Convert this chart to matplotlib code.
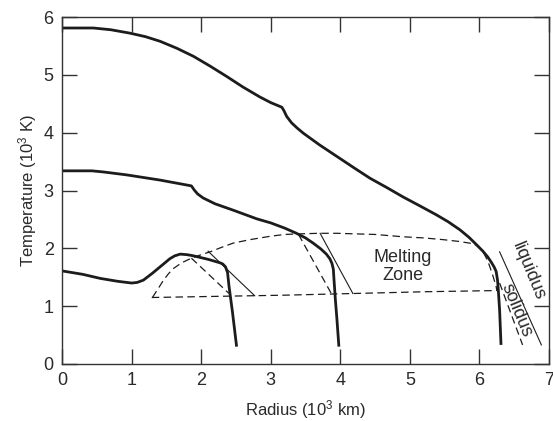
import matplotlib
matplotlib.use("Agg")
import matplotlib.pyplot as plt

plt.rcParams['font.family'] = ['Liberation Sans', 'DejaVu Sans']
plt.rcParams['mathtext.default'] = 'regular'

# ---- data (radius in 10^3 km, temperature in 10^3 K) ----
large_r = [0.00, 0.45, 0.70, 0.98, 1.20, 1.41, 1.65, 1.89, 2.13, 2.37, 2.60,
           2.84, 3.00, 3.16, 3.19, 3.23, 3.30, 3.38, 3.47, 3.70, 3.95, 4.20,
           4.43, 4.67, 4.90, 5.15, 5.38, 5.55, 5.72, 5.85, 5.96, 6.05, 6.12,
           6.17, 6.21, 6.24, 6.26, 6.27, 6.29, 6.31]
large_t = [5.81, 5.81, 5.78, 5.72, 5.66, 5.58, 5.46, 5.32, 5.15, 4.97, 4.79,
           4.62, 4.52, 4.44, 4.38, 4.28, 4.17, 4.08, 3.99, 3.79, 3.59, 3.39,
           3.21, 3.05, 2.89, 2.73, 2.58, 2.46, 2.32, 2.19, 2.06, 1.95, 1.85,
           1.76, 1.68, 1.60, 1.45, 1.30, 0.93, 0.33]

mid_r = [0.00, 0.43, 0.60, 0.93, 1.41, 1.86, 1.90, 1.95, 2.03, 2.20, 2.46,
         2.80, 3.00, 3.20, 3.37, 3.50, 3.61, 3.72, 3.80, 3.85, 3.88, 3.90,
         3.91, 3.93, 3.95, 3.98]
mid_t = [3.34, 3.34, 3.32, 3.27, 3.18, 3.08, 3.01, 2.94, 2.87, 2.77, 2.66,
         2.51, 2.44, 2.35, 2.26, 2.18, 2.09, 1.99, 1.90, 1.82, 1.74, 1.64,
         1.45, 1.10, 0.80, 0.30]

small_r = [0.00, 0.30, 0.55, 0.80, 1.00, 1.08, 1.17, 1.30, 1.41, 1.55, 1.62,
           1.70, 1.80, 1.89, 2.10, 2.27, 2.31, 2.35, 2.38, 2.40, 2.45, 2.51]
small_t = [1.61, 1.55, 1.48, 1.43, 1.40, 1.41, 1.45, 1.57, 1.68, 1.82, 1.87,
           1.90, 1.89, 1.87, 1.81, 1.75, 1.73, 1.68, 1.58, 1.35, 0.90, 0.30]

liquidus_r = [1.30, 1.38, 1.46, 1.53, 1.60, 1.72, 1.86, 2.00, 2.13, 2.30, 2.46,
              2.70, 3.00, 3.20, 3.40, 3.70, 3.95, 4.50, 4.90, 5.20, 5.48, 5.70,
              5.86, 5.96, 6.02, 6.07, 6.12, 6.15, 6.20, 6.24, 6.25]
liquidus_t = [1.15, 1.30, 1.45, 1.56, 1.65, 1.75, 1.83, 1.89, 1.94, 2.02, 2.09,
              2.15, 2.21, 2.24, 2.25, 2.26, 2.26, 2.24, 2.20, 2.18, 2.15, 2.12,
              2.09, 2.05, 1.99, 1.90, 1.78, 1.68, 1.50, 1.34, 1.27]

solidus_r = [1.29, 3.20, 5.24, 6.25]
solidus_t = [1.15, 1.19, 1.25, 1.27]

# guide segments: dashed and thin solid
dash_seg_r = [[1.86, 2.40], [3.40, 3.87], [6.29, 6.62]]
dash_seg_t = [[1.83, 1.22], [2.24, 1.22], [1.40, 0.33]]
thin_seg_r = [[2.10, 2.77], [3.71, 4.18], [6.29, 6.89]]
thin_seg_t = [[1.95, 1.18], [2.26, 1.22], [1.94, 0.33]]

xticks = [0, 1, 2, 3, 4, 5, 6, 7]
yticks = [0, 1, 2, 3, 4, 5, 6]

ink = '#1c1c1c'
txt = '#2a2a2a'

fig = plt.figure(figsize=(5.53, 4.21), dpi=100)
ax = fig.add_axes([0.1121, 0.1354, 0.8807, 0.8242])

for r, t in [(large_r, large_t), (mid_r, mid_t), (small_r, small_t)]:
    ax.plot(r, t, color=ink, lw=2.0, solid_joinstyle='round', solid_capstyle='butt')

ax.plot(liquidus_r, liquidus_t, color=ink, lw=0.9, dashes=(6, 3.5))
ax.plot(solidus_r, solidus_t, color=ink, lw=0.9, dashes=(6, 3.5))
for r, t in zip(dash_seg_r, dash_seg_t):
    ax.plot(r, t, color=ink, lw=0.9, dashes=(6, 3.5))
for r, t in zip(thin_seg_r, thin_seg_t):
    ax.plot(r, t, color=ink, lw=0.8)

ax.text(4.90, 1.68, 'Melting\nZone', ha='center', va='center', fontsize=13,
        color=txt, linespacing=1.1)
ax.text(6.70, 1.61, 'liquidus', ha='center', va='center', fontsize=13,
        color=txt, rotation=-67.5, rotation_mode='anchor')
ax.text(6.53, 0.93, 'solidus', ha='center', va='center', fontsize=13,
        color=txt, rotation=-67.5, rotation_mode='anchor')

ax.set_xlim(0, 7)
ax.set_ylim(0, 6)
ax.set_xticks(xticks)
ax.set_yticks(yticks)
ax.tick_params(direction='in', length=10.5, width=1.0, top=True, right=True,
               labelsize=13, colors='#333333', labelcolor=txt, pad=6)
for s in ax.spines.values():
    s.set_linewidth(1.0)
    s.set_color('#333333')

ax.set_xlabel('Radius (10$^3$ km)', fontsize=12, color=txt, labelpad=6)
ax.set_ylabel('Temperature (10$^3$ K)', fontsize=12, color=txt, labelpad=3)

fig.savefig('out.png', dpi=100)
